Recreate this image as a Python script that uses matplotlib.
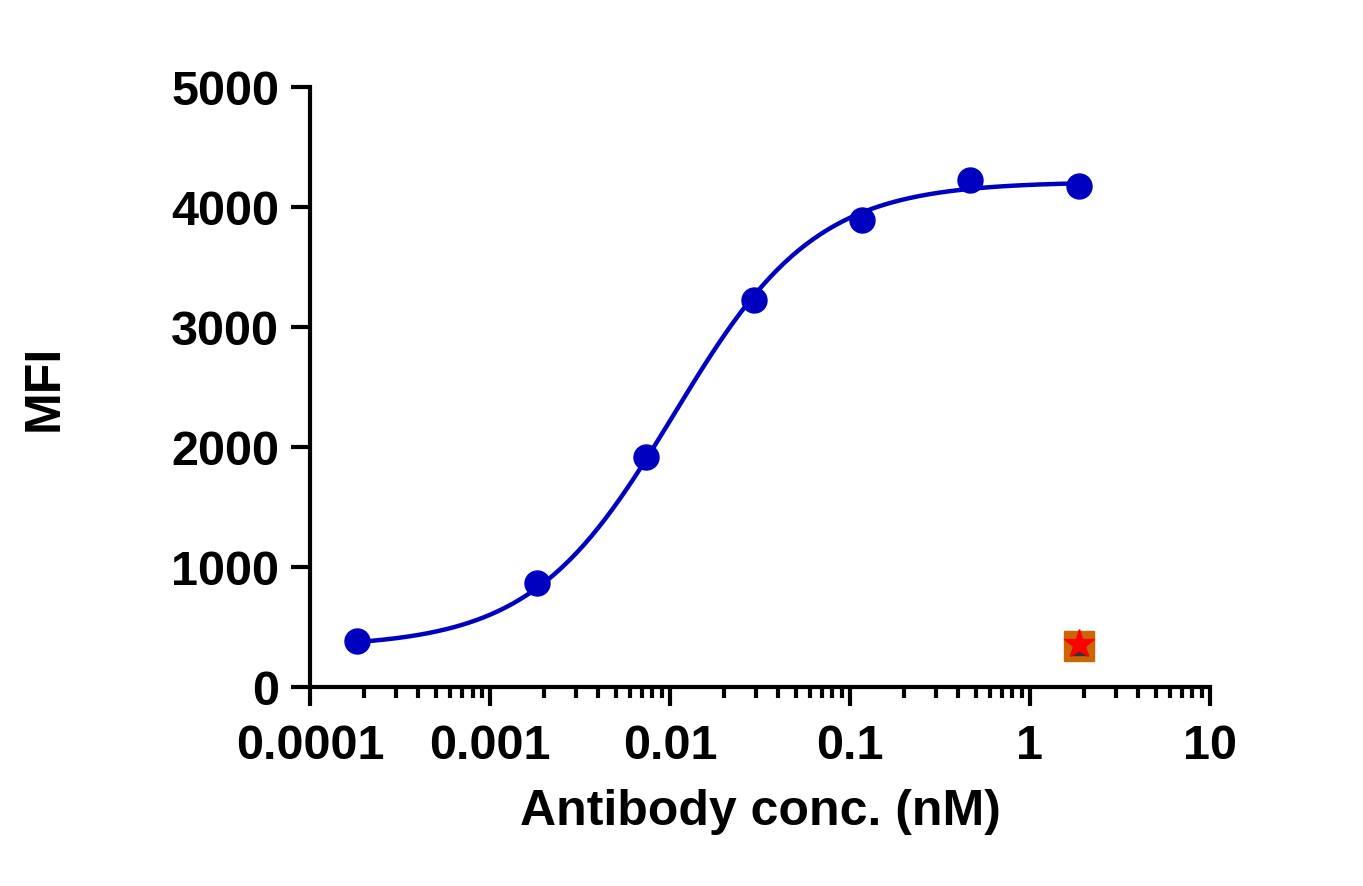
import numpy as np
import matplotlib
matplotlib.use("Agg")
import matplotlib.pyplot as plt
from matplotlib.ticker import LogLocator, NullFormatter

plt.rcParams['font.family'] = ['Liberation Sans', 'DejaVu Sans']
plt.rcParams['font.weight'] = 'bold'

# data
conc = [0.000183, 0.00183, 0.00732, 0.0293, 0.117, 0.464, 1.87]
mfi = [383, 867, 1917, 3225, 3892, 4225, 4175]

ctrl_conc = [1.87]
ctrl_square = [345]
ctrl_triangle = [340]
ctrl_star = [355]

# 4PL fit parameters (bottom, top, EC50, hill)
fit_bottom, fit_top, fit_ec50, fit_hill = 330, 4210, 0.0105, 1.1

fig = plt.figure(figsize=(13.63, 8.87), dpi=100)
ax = fig.add_axes([0.2274, 0.2244, 0.6603, 0.6764])

xs = np.logspace(np.log10(conc[0]), np.log10(conc[-1]), 300)
ys = fit_bottom + (fit_top - fit_bottom) / (1 + (fit_ec50 / xs) ** fit_hill)
ax.plot(xs, ys, color="#0000C0", lw=3.2, zorder=3)
ax.plot(conc, mfi, "o", color="#0000C0", ms=18, zorder=4)

ax.plot(ctrl_conc, ctrl_square, "s", color="#CC6600", ms=22, zorder=5)
ax.plot(ctrl_conc, ctrl_triangle, "^", color="#333333", ms=13, zorder=6)
ax.plot(ctrl_conc, ctrl_star, "*", color="#FF0000", ms=22, zorder=7)

ax.set_xscale("log")
ax.set_xlim(1e-4, 10)
ax.set_ylim(0, 5000)
ax.set_yticks([0, 1000, 2000, 3000, 4000, 5000])
ax.set_xticks([1e-4, 1e-3, 1e-2, 1e-1, 1, 10])
ax.set_xticklabels(["0.0001", "0.001", "0.01", "0.1", "1", "10"])
ax.xaxis.set_minor_locator(LogLocator(base=10, subs=np.arange(2, 10), numticks=20))
ax.xaxis.set_minor_formatter(NullFormatter())

for s in ["top", "right"]:
    ax.spines[s].set_visible(False)
for s in ["left", "bottom"]:
    ax.spines[s].set_linewidth(3)
ax.tick_params(axis="both", which="major", width=3, length=14, labelsize=35, pad=8)
ax.tick_params(axis="x", which="major", pad=12)
ax.tick_params(axis="x", which="minor", width=3, length=8)
for lab in ax.get_xticklabels() + ax.get_yticklabels():
    lab.set_fontweight("bold")

ax.set_xlabel("Antibody conc. (nM)", fontsize=36, fontweight="bold", labelpad=14)
ax.set_ylabel("MFI", fontsize=36, fontweight="bold", labelpad=75)

fig.savefig("out.png", dpi=100)
